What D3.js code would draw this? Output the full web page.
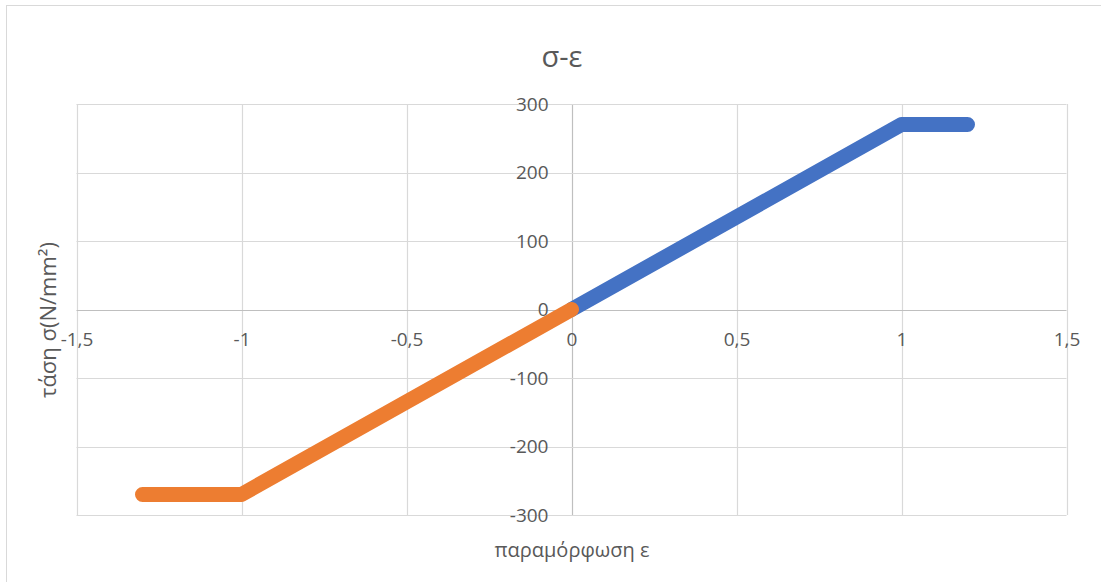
<!DOCTYPE html>
<html>
<head>
<meta charset="utf-8">
<script src="https://cdn.jsdelivr.net/npm/d3@7"></script>
<style>
  html, body { margin: 0; padding: 0; background: #fff; }
  svg text { font-family: "Open Sans", "Noto Sans", sans-serif; fill: #595959; }
</style>
</head>
<body>
<svg id="chart" width="1101" height="582"></svg>
<script>
// Stress–strain curve: tension branch and compression branch
const tensionStrain = [0, 1, 1.2];
const tensionStress = [0, 270, 270];
const compressionStrain = [0, -1, -1.3];
const compressionStress = [0, -270, -270];

const xTicks = [-1.5, -1, -0.5, 0, 0.5, 1, 1.5];
const yTicks = [-300, -200, -100, 0, 100, 200, 300];

const titleText = "σ-ε";
const xTitle = "παραμόρφωση ε";
const yTitle = "τάση σ(N/mm²)";

const svg = d3.select("#chart");
const W = 1101, H = 582;

// Chart-area frame
svg.append("rect")
  .attr("x", 6.5).attr("y", 5.5)
  .attr("width", W).attr("height", H)
  .attr("fill", "#fff").attr("stroke", "#d9d9d9").attr("stroke-width", 1);

const plot = { left: 76.5, right: 1066.5, top: 104, bottom: 515 };

const x = d3.scaleLinear().domain([-1.5, 1.5]).range([plot.left, plot.right]);
const y = d3.scaleLinear().domain([-300, 300]).range([plot.bottom, plot.top]);

const fmt = d => String(d).replace(".", ",");

// Gridlines
const grid = svg.append("g");
grid.selectAll("line.v").data(xTicks).join("line")
  .attr("x1", d => Math.round(x(d)) + 0.5).attr("x2", d => Math.round(x(d)) + 0.5)
  .attr("y1", plot.top).attr("y2", plot.bottom)
  .attr("stroke", d => d === 0 ? "#bfbfbf" : "#d9d9d9").attr("stroke-width", 1.2);
grid.selectAll("line.h").data(yTicks).join("line")
  .attr("y1", d => Math.round(y(d)) + 0.5).attr("y2", d => Math.round(y(d)) + 0.5)
  .attr("x1", plot.left).attr("x2", plot.right)
  .attr("stroke", d => d === 0 ? "#bfbfbf" : "#d9d9d9").attr("stroke-width", 1.2);

// Axes crossing at the origin, labels only (no tick marks)
const xAxis = d3.axisBottom(x).tickValues(xTicks).tickFormat(fmt).tickSize(0).tickPadding(23);
const yAxis = d3.axisLeft(y).tickValues(yTicks).tickFormat(fmt).tickSize(0).tickPadding(23);

const gx = svg.append("g").attr("transform", `translate(0,${y(0)})`).call(xAxis);
const gy = svg.append("g").attr("transform", `translate(${x(0)},0)`).call(yAxis);
[gx, gy].forEach(g => {
  g.select(".domain").remove();
  g.selectAll("text").attr("font-size", 19).attr("fill", "#595959")
    .style("font-family", '"Open Sans", "Noto Sans", sans-serif');
});

// Series lines
const line = d3.line().x(d => x(d[0])).y(d => y(d[1]));
const tension = tensionStrain.map((e, i) => [e, tensionStress[i]]);
const compression = compressionStrain.map((e, i) => [e, compressionStress[i]]);

svg.append("path").datum(tension).attr("d", line)
  .attr("fill", "none").attr("stroke", "#4472C4").attr("stroke-width", 15)
  .attr("stroke-linecap", "round").attr("stroke-linejoin", "round");
svg.append("path").datum(compression).attr("d", line)
  .attr("fill", "none").attr("stroke", "#ED7D31").attr("stroke-width", 15)
  .attr("stroke-linecap", "round").attr("stroke-linejoin", "round");

// Titles
svg.append("text").attr("x", 562).attr("y", 67).attr("text-anchor", "middle")
  .attr("font-size", 29).text(titleText);
svg.append("text").attr("x", 572).attr("y", 557).attr("text-anchor", "middle")
  .attr("font-size", 20).text(xTitle);
svg.append("text").attr("transform", "translate(56,320) rotate(-90)")
  .attr("text-anchor", "middle").attr("font-size", 22).text(yTitle);
</script>
</body>
</html>
